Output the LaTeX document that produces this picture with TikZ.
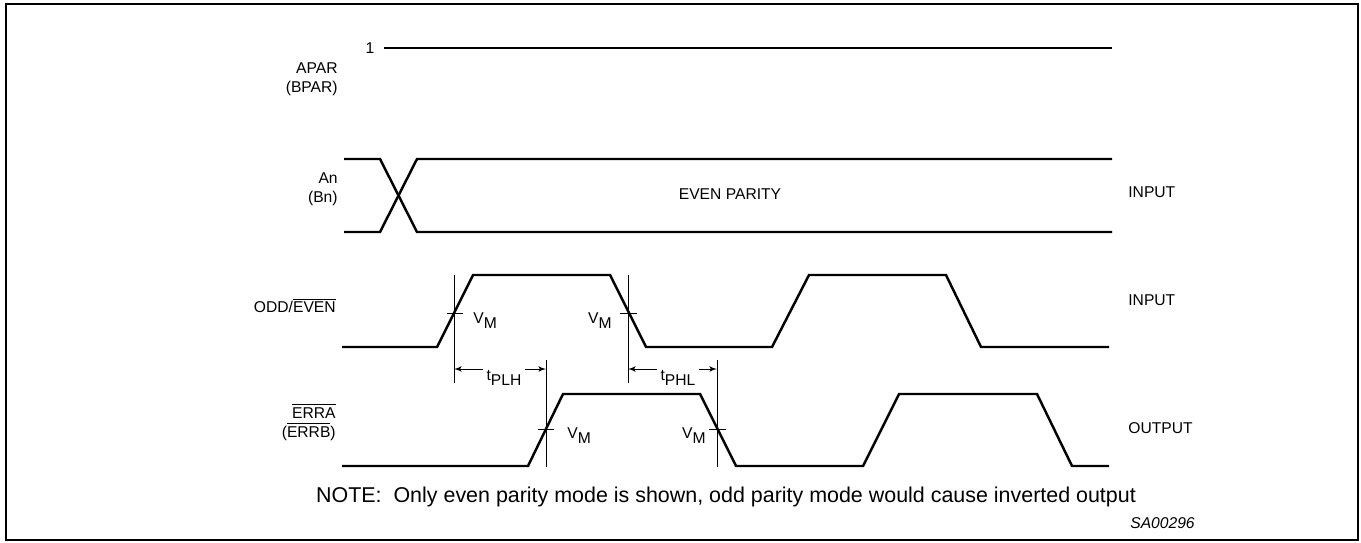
\documentclass[tikz,border=0pt]{standalone}
\usepackage{fontspec}
\setmainfont{Liberation Sans}
\usepackage{tikz}
\usetikzlibrary{shapes,arrows}
\usetikzlibrary{calc}
\tikzstyle{wave} = [draw, line width=1.4pt, line join=miter]
\tikzstyle{guide} = [draw, line width=0.5pt]
\tikzstyle{line} = [draw, -latex', line width=0.5pt]
\tikzstyle{sigtext} = [inner sep=0pt, font=\fontsize{8.9}{10.8}\selectfont]
\newcommand{\lowsub}[2]{#1\raisebox{-3pt}{#2}}

\begin{document}
\begin{tikzpicture}[x=0.02cm, y=-0.02cm]
    \useasboundingbox (0,0) rectangle (1361,542);
    \draw[line width=1.2pt] (6,4) rectangle (1358,540);

    % signal names
    \node [sigtext, anchor=east, align=right] (apar) at (338,79.5) {APAR\\(BPAR)};
    \node [sigtext, anchor=east, align=right] (an) at (338,189.5) {An\\(Bn)};
    \node [sigtext, anchor=east] (oddeven) at (336,305) {ODD/$\overline{\mbox{EVEN}}$};
    \node [sigtext, anchor=east, align=right] (erra) at (336,422) {$\overline{\mbox{ERRA}}$\\($\overline{\mbox{ERRB}}$)};
    \node [sigtext] (one) at (370,48) {1};
    \node [sigtext] (parity) at (730,194) {EVEN PARITY};
    \node [sigtext, anchor=west] (inA) at (1128,192) {INPUT};
    \node [sigtext, anchor=west] (inB) at (1128,300) {INPUT};
    \node [sigtext, anchor=west] (out) at (1128,428) {OUTPUT};

    % waveforms
    \path[wave] (384,48) -- (1112,48);
    \path[wave] (344,159) -- (380,159) -- (417,232) -- (1112,232);
    \path[wave] (344,232) -- (380,232) -- (417,159) -- (1112,159);
    \path[wave] (342,347) -- (437,347) -- (473,275) -- (610,275) -- (646,347) -- (772,347)
        -- (809,275) -- (946,275) -- (981,347) -- (1109,347);
    \path[wave] (342,466) -- (528,466) -- (563,394) -- (700,394) -- (736,466) -- (863,466)
        -- (899,394) -- (1037,394) -- (1072,466) -- (1109,466);

    % VM reference lines
    \path[guide] (454,275) -- (454,383);
    \path[guide] (447,313) -- (463,313);
    \path[guide] (628,275) -- (628,383);
    \path[guide] (620,313) -- (637,313);
    \path[guide] (546,360) -- (546,467);
    \path[guide] (538,429) -- (554,429);
    \path[guide] (717,360) -- (717,467);
    \path[guide] (709,429) -- (726,429);
    \node [sigtext, anchor=base west] (vm1) at (473,323) {\lowsub{V}{M}};
    \node [sigtext, anchor=base east] (vm2) at (612,323) {\lowsub{V}{M}};
    \node [sigtext, anchor=base west] (vm3) at (567,438) {\lowsub{V}{M}};
    \node [sigtext, anchor=base east] (vm4) at (706,438) {\lowsub{V}{M}};

    % delay times
    \coordinate (plhL) at (454,369);
    \coordinate (plhR) at (546,369);
    \coordinate (phlL) at (628,369);
    \coordinate (phlR) at (717,369);
    \node [sigtext, inner sep=2pt, anchor=base] (plh) at (504,380) {\lowsub{t}{PLH}};
    \node [sigtext, inner sep=2pt, anchor=base] (phl) at (678,380) {\lowsub{t}{PHL}};
    \path[line] (plh.west |- plhL) -- (plhL);
    \path[line] (plh.east |- plhR) -- (plhR);
    \path[line] (phl.west |- phlL) -- (phlL);
    \path[line] (phl.east |- phlR) -- (phlR);

    \node [inner sep=0pt, font=\fontsize{12.2}{14}\selectfont] (note) at (726,497)
        {NOTE:\ \ Only even parity mode is shown, odd parity mode would cause inverted output};
    \node [sigtext, anchor=east, font=\fontsize{8.9}{10.8}\selectfont\itshape] (ref) at (1195,523) {SA00296};
\end{tikzpicture}
\end{document}
